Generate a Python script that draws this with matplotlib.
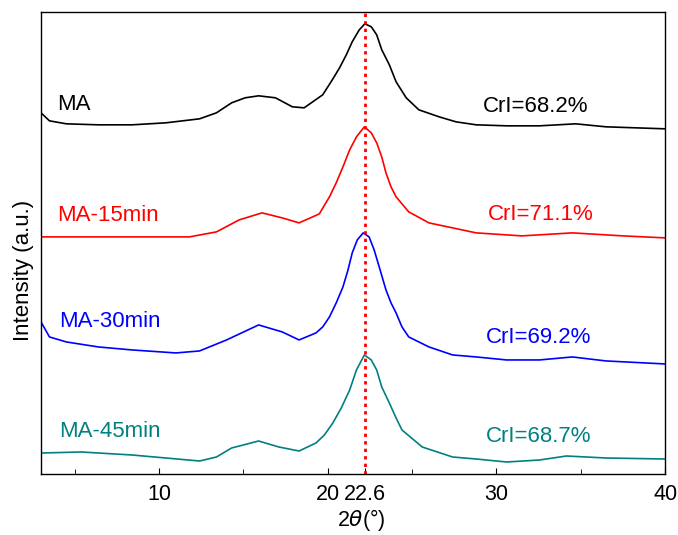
import matplotlib
matplotlib.use("Agg")
import matplotlib.pyplot as plt

plt.rcParams['font.family'] = ['Liberation Sans', 'DejaVu Sans']

# 2theta positions and intensities (a.u., already offset)
ma_x = [3.0, 3.5, 4.5, 6.4, 8.4, 10.4, 12.4, 13.4, 14.3, 15.1, 15.9, 16.9, 17.9, 18.6,
        19.7, 20.27, 20.7, 21.1, 21.45, 21.87, 22.2, 22.58, 22.9, 23.2, 23.65,
        24.05, 24.65, 25.4, 26.6, 27.6, 28.8, 30.6, 32.55, 34.7, 36.5, 40.0]
ma_y = [361, 353, 350, 349, 349, 351, 355, 361, 371, 376, 378, 376, 367, 366,
        379, 394, 406, 419, 432, 444, 450, 447, 439, 424, 409,
        392, 376, 364, 357, 352, 349, 348, 348, 350, 347, 345]

ma15_x = [3.0, 6.4, 9.4, 11.8, 13.4, 14.75, 16.1, 17.3, 18.3, 19.5, 20.1, 20.5,
          20.9, 21.3, 21.7, 22.17, 22.58, 22.9, 23.2, 23.45, 23.75, 24.05,
          24.8, 26.0, 28.8, 31.5, 34.5, 37.5, 40.0]
ma15_y = [237, 237, 237, 237, 242, 254, 261, 256, 251, 260, 277, 291,
          307, 324, 337, 347, 341, 331, 317, 301, 287, 277,
          262, 251, 241, 238, 241, 238, 236]

ma30_x = [3.0, 3.5, 4.5, 6.4, 8.4, 11.0, 12.4, 14.0, 15.9, 17.3, 18.3, 19.3,
          19.7, 20.1, 20.5, 20.9, 21.2, 21.45, 21.75, 22.1, 22.45, 22.75,
          23.05, 23.45, 23.75, 24.05, 24.4, 24.8, 26.0, 27.4, 28.8, 30.6,
          32.55, 34.5, 36.5, 40.0]
ma30_y = [152, 137, 132, 127, 124, 121, 123, 134, 149, 142, 134, 141,
          147, 157, 171, 187, 204, 221, 234, 241, 237, 224,
          207, 184, 171, 161, 147, 137, 127, 119, 117, 114,
          114, 117, 113, 110]

ma45_x = [3.0, 5.4, 8.4, 10.4, 12.4, 13.4, 14.3, 15.9, 17.1, 18.3, 19.3, 19.8,
          20.3, 20.8, 21.3, 21.7, 22.17, 22.58, 22.9, 23.2, 23.65, 24.05,
          24.4, 25.6, 27.4, 28.8, 30.6, 32.55, 34.15, 36.5, 40.0]
ma45_y = [21, 22, 19, 16, 13, 17, 26, 33, 27, 23, 31, 39,
          51, 66, 84, 104, 119, 114, 104, 87, 71, 56,
          44, 27, 17, 15, 12, 14, 18, 16, 15]

names = ['MA', 'MA-15min', 'MA-30min', 'MA-45min']
cri = ['CrI=68.2%', 'CrI=71.1%', 'CrI=69.2%', 'CrI=68.7%']
colors = ['black', '#ff0000', '#0000ff', '#008080']

peak_x = 22.2
tick_pos = [10, 20, peak_x, 30, 40]
tick_lab = ['10', '20', '22.6', '30', '40']

fig = plt.figure(figsize=(6.78, 5.35), dpi=100)
ax = fig.add_axes([0.0605, 0.114, 0.9205, 0.864])

series = [(ma_x, ma_y), (ma15_x, ma15_y), (ma30_x, ma30_y), (ma45_x, ma45_y)]
for (xs, ys), c in zip(series, colors):
    ax.plot(xs, ys, color=c, lw=1.2)

ax.axvline(peak_x, color='#ff0000', ls=(0, (1.2, 1.5)), lw=2)

# labels: name on the left, crystallinity on the right
name_pos = [(3.95, 369), (3.95, 258), (4.05, 152), (4.05, 42)]
cri_pos = [(29.17, 367), (29.47, 259), (29.35, 136), (29.4, 37)]
for n, c, (x, y) in zip(names, colors, name_pos):
    ax.text(x, y, n, color=c, fontsize=16, va='center', ha='left')
for t, c, (x, y) in zip(cri, colors, cri_pos):
    ax.text(x, y, t, color=c, fontsize=16, va='center', ha='left')

ax.set_xlim(3, 40)
ax.set_ylim(0, 462)
ax.set_xticks(tick_pos)
ax.set_xticklabels(tick_lab)
ax.set_xticks([5, 15, 25, 35], minor=True)
ax.tick_params(axis='x', which='both', direction='in', labelsize=15.5, pad=7)
ax.tick_params(axis='x', which='major', length=4)
ax.tick_params(axis='x', which='minor', length=3.5)
ax.set_yticks([])
for s in ax.spines.values():
    s.set_linewidth(1.0)

ax.set_xlabel('2$\\theta$(°)', fontsize=15.5)
ax.set_ylabel('Intensity (a.u.)', fontsize=16)
ax.xaxis.set_label_coords(0.513, -0.071)
ax.yaxis.set_label_coords(-0.011, 0.44)

fig.savefig('out.png', dpi=100)
